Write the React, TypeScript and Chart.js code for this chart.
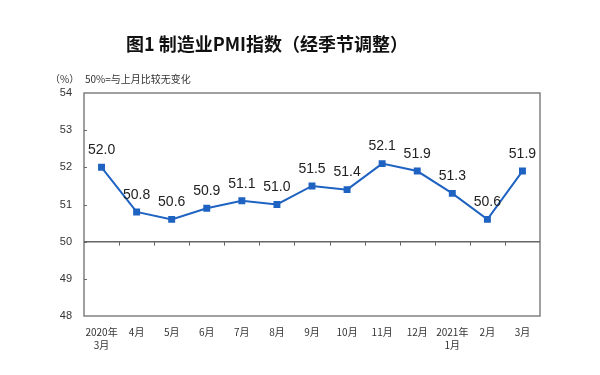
import React, { useEffect, useRef } from "react";
import { Chart, registerables } from "chart.js";

Chart.register(...registerables);

const titleText = "图1 制造业PMI指数（经季节调整）";
const unitText = "（%）";
const noteText = "50%=与上月比较无变化";
const categories: (string | string[])[] = [
  ["2020年", "3月"], "4月", "5月", "6月", "7月", "8月", "9月",
  "10月", "11月", "12月", ["2021年", "1月"], "2月", "3月",
];
const pmiValues = [52.0, 50.8, 50.6, 50.9, 51.1, 51.0, 51.5, 51.4, 52.1, 51.9, 51.3, 50.6, 51.9];
const yMin = 48;
const yMax = 54;
const baseline = 50;

const overlay = {
  id: "overlay",
  afterDraw(chart: any) {
    const { ctx, chartArea } = chart;
    const xs = chart.scales.x;
    const ys = chart.scales.y;
    ctx.save();
    // titles
    ctx.fillStyle = "#111";
    ctx.textAlign = "center";
    ctx.textBaseline = "middle";
    ctx.font = "bold 18px 'Noto Sans CJK SC'";
    ctx.fillText(titleText, 267, 44);
    ctx.font = "10px 'Noto Sans CJK SC'";
    ctx.fillStyle = "#333";
    ctx.textAlign = "left";
    ctx.fillText(unitText, 50, 79);
    ctx.fillText(noteText, 85, 79);
    // frame
    ctx.strokeStyle = "#808080";
    ctx.lineWidth = 1.5;
    ctx.strokeRect(chartArea.left, chartArea.top, chartArea.right - chartArea.left, chartArea.bottom - chartArea.top);
    // baseline
    const yb = ys.getPixelForValue(baseline);
    ctx.strokeStyle = "#666";
    ctx.beginPath();
    ctx.moveTo(chartArea.left, yb);
    ctx.lineTo(chartArea.right, yb);
    ctx.stroke();
    // category ticks on baseline
    ctx.lineWidth = 1;
    const n = categories.length;
    const w = (chartArea.right - chartArea.left) / n;
    for (let i = 1; i < n; i++) {
      const x = Math.round(chartArea.left + w * i) + 0.5;
      ctx.beginPath();
      ctx.moveTo(x, yb);
      ctx.lineTo(x, yb + 4);
      ctx.stroke();
    }
    // y inward ticks
    for (let v = yMin + 1; v < yMax; v++) {
      const y = Math.round(ys.getPixelForValue(v)) + 0.5;
      ctx.beginPath();
      ctx.moveTo(chartArea.left, y);
      ctx.lineTo(chartArea.left + 3, y);
      ctx.stroke();
    }
    // data labels
    ctx.fillStyle = "#222";
    ctx.font = "14px 'Liberation Sans'";
    ctx.textAlign = "center";
    ctx.textBaseline = "middle";
    pmiValues.forEach((v, i) => {
      const x = xs.getPixelForValue(i);
      const y = ys.getPixelForValue(v);
      ctx.fillText(v.toFixed(1), x, y - 17);
    });
    ctx.restore();
  },
};

export default function App() {
  const ref = useRef<HTMLCanvasElement>(null);
  useEffect(() => {
    if (!ref.current) return;
    const chart = new Chart(ref.current, {
      type: "line",
      data: {
        labels: categories as any,
        datasets: [
          {
            data: pmiValues,
            borderColor: "#1f63c2",
            backgroundColor: "#1f63c2",
            borderWidth: 2,
            pointStyle: "rect",
            pointRadius: 3.5,
            pointHoverRadius: 3.5,
            tension: 0,
          },
        ],
      },
      options: {
        responsive: false,
        animation: false,
        events: [],
        layout: { padding: { left: 0, right: 60, top: 93, bottom: 0 } },
        plugins: { legend: { display: false }, title: { display: false }, tooltip: { enabled: false } },
        scales: {
          x: {
            offset: true,
            grid: { display: false, drawTicks: false },
            border: { display: false },
            ticks: {
              padding: 9,
              color: "#333",
              font: { size: 10, family: "'Noto Sans CJK SC'", lineHeight: 1.35 } as any,
              maxRotation: 0,
              autoSkip: false,
            },
            afterFit: (s: any) => { s.height = 59; },
          },
          y: {
            min: yMin,
            max: yMax,
            grid: { display: false, drawTicks: false },
            border: { display: false },
            ticks: {
              stepSize: 1,
              padding: 12,
              color: "#333",
              font: { size: 11, family: "'Liberation Sans'" },
            },
            afterFit: (s: any) => { s.width = 84; },
          },
        },
      },
      plugins: [overlay],
    });
    return () => chart.destroy();
  }, []);
  return (
    <div style={{ position: "absolute", left: 0, top: 0, width: 600, height: 375, background: "#fff" }}>
      <canvas ref={ref} width={600} height={375} />
    </div>
  );
}
